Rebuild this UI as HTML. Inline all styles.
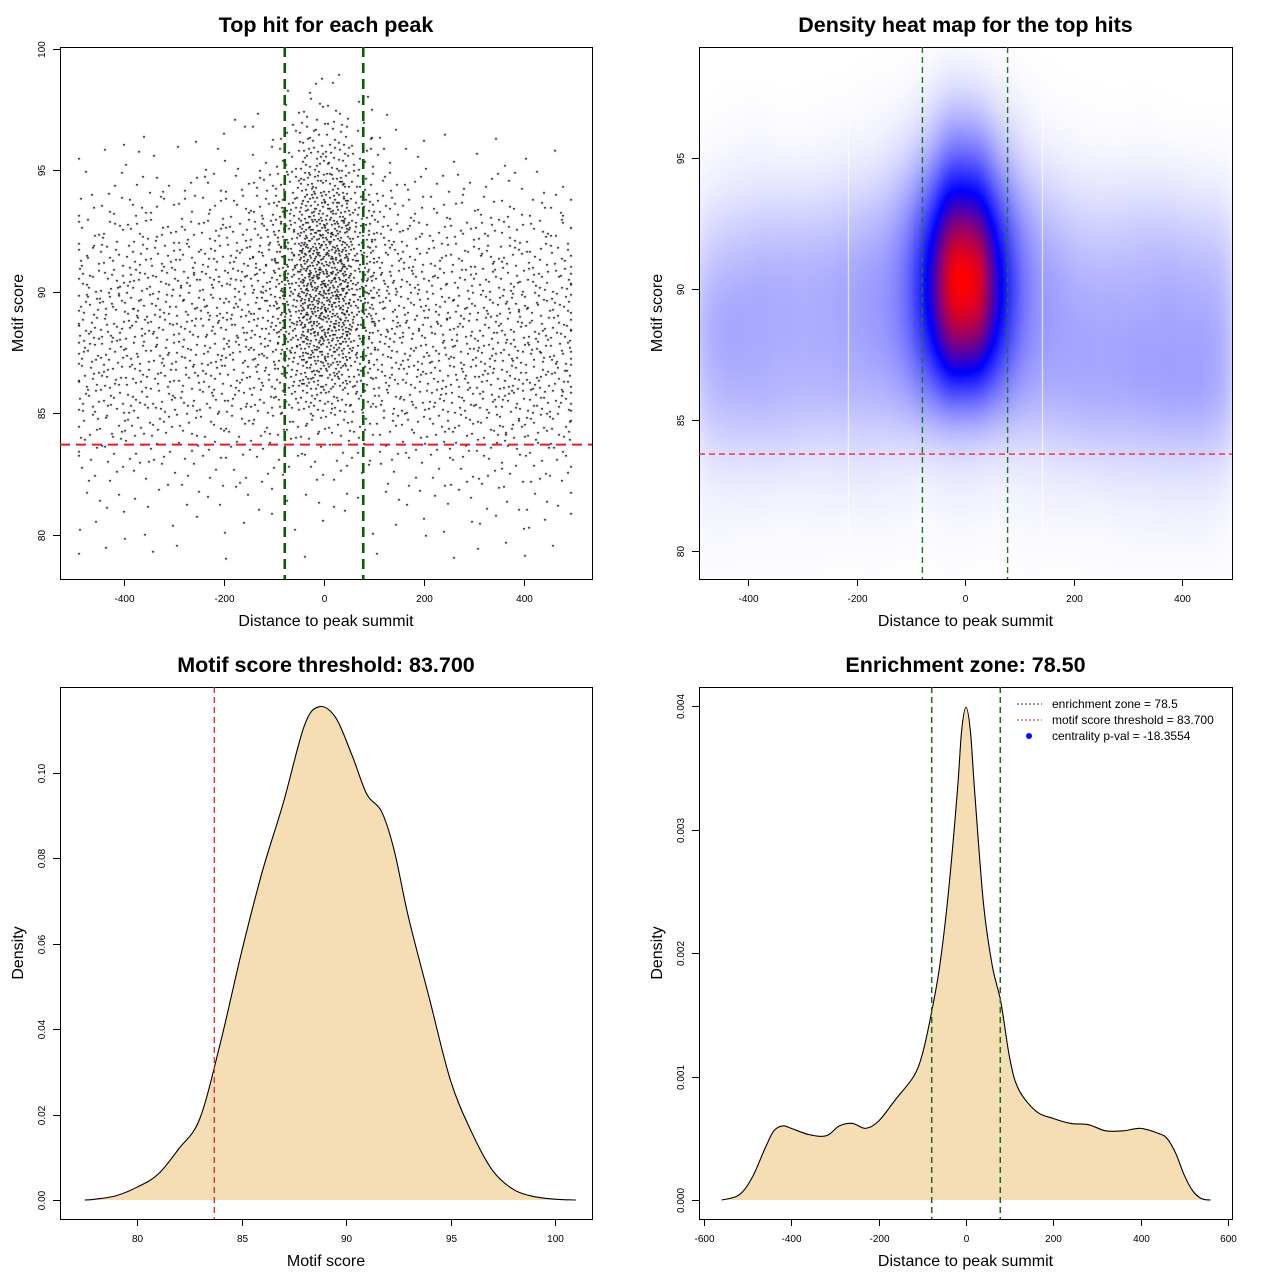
<!DOCTYPE html>
<html><head><meta charset="utf-8"><style>
html,body{margin:0;padding:0;background:#fff;}
#wrap{position:relative;width:1280px;height:1280px;font-family:"Liberation Sans",sans-serif;}
canvas,svg{position:absolute;left:0;top:0;}
</style></head><body>
<div id="wrap">
<canvas id="scat" width="1280" height="1280"></canvas>
<canvas id="heat" width="1280" height="1280"></canvas>
<svg id="svg" width="1280" height="1280" xmlns="http://www.w3.org/2000/svg"></svg>
</div>
<script>
// ---- data: scatter counts per bin (columns = 50-unit distance bins from -500, rows = 1-unit score bins from 99 down) ----
const scatterColumns = [
[0,0,0,1,2,3,6,8,10,12,13,12,11,10,7,5,3,2,2,1],
[0,0,1,1,3,4,7,9,11,13,13,13,12,10,8,5,3,2,1,1],
[0,0,1,2,3,5,8,10,12,13,13,12,12,11,8,5,3,2,1,1],
[0,0,0,1,3,5,8,10,12,12,12,12,11,10,8,5,3,1,1,1],
[0,0,1,1,3,5,8,10,12,12,12,12,11,10,7,4,3,2,1,1],
[0,0,1,2,4,6,9,11,13,13,13,12,12,10,7,5,3,2,1,0],
[0,1,1,2,4,7,10,12,14,14,14,13,12,10,7,5,3,2,1,1],
[0,1,2,4,7,10,13,15,16,16,16,15,13,11,7,4,3,2,1,0],
[1,2,5,8,13,18,23,27,29,29,27,24,19,14,8,4,2,1,1,0],
[3,6,12,18,26,36,46,54,58,56,50,42,30,18,9,5,3,2,1,1],
[2,5,11,17,25,34,44,52,56,55,49,40,29,17,9,4,3,2,1,0],
[1,2,5,8,12,17,22,26,28,28,26,23,18,13,8,4,2,1,1,0],
[0,1,2,3,6,9,12,14,15,15,15,14,13,11,7,4,3,2,1,1],
[0,0,1,2,4,6,9,11,13,13,14,13,13,11,8,5,3,2,1,0],
[0,0,1,1,3,5,7,9,11,12,13,13,13,12,9,5,3,2,1,1],
[0,0,0,1,3,5,7,9,11,12,13,13,13,12,9,6,4,2,1,1],
[0,0,1,1,3,5,8,10,11,12,13,14,14,12,9,6,4,2,2,1],
[0,0,0,1,3,5,8,10,12,13,13,14,14,13,10,6,4,3,1,1],
[0,0,0,1,2,4,7,9,11,12,13,14,14,13,10,6,4,3,2,1],
[0,0,0,1,2,4,7,9,11,12,13,13,13,12,9,6,4,2,1,1]
];
const binStartX = -500, binWidthX = 50, binTopY = 99, binHeightY = 1;
const enrichmentZone = 78.5;
const scoreThreshold = 83.7;
// score density (panel 3)
const scoreX = [77.5,78,79,80,81,82,83,84,85,86,87,88,88.7,89.5,90.3,91,91.7,92.3,93,94,95,96,97,98,99,100,101];
const scoreDensity = [0,0.0002,0.001,0.003,0.006,0.012,0.019,0.037,0.058,0.077,0.093,0.111,0.1155,0.113,0.104,0.095,0.091,0.082,0.066,0.047,0.028,0.016,0.007,0.0025,0.0008,0.0002,0];
// distance density (panel 4)
const distX = [-560,-520,-490,-460,-440,-420,-400,-360,-320,-290,-260,-230,-200,-160,-120,-100,-80,-60,-40,-20,-10,0,10,20,40,60,80,100,120,160,200,240,280,320,360,400,440,460,480,500,520,540,560];
const distDensity = [0,0.00004,0.00018,0.00042,0.00056,0.0006,0.00058,0.00053,0.00052,0.0006,0.00062,0.00058,0.00064,0.00082,0.001,0.00118,0.0015,0.0019,0.0025,0.0033,0.0038,0.00399,0.0038,0.0033,0.0024,0.0019,0.0016,0.00115,0.0009,0.00072,0.00066,0.00062,0.00061,0.00056,0.00056,0.00058,0.00054,0.0005,0.00038,0.0002,0.00007,0.00001,0];
// ticks
const p1XTicks = [-400,-200,0,200,400], p1YTicks = [80,85,90,95,100];
const p2XTicks = [-400,-200,0,200,400], p2YTicks = [80,85,90,95];
const p3XTicks = [80,85,90,95,100], p3YTicks = [0,0.02,0.04,0.06,0.08,0.10];
const p4XTicks = [-600,-400,-200,0,200,400,600], p4YTicks = [0,0.001,0.002,0.003,0.004];
const legendLabels = ["enrichment zone = 78.5","motif score threshold = 83.700","centrality p-val = -18.3554"];

// ---- axis functions ----
function lin(d0,d1,r0,r1){return v=>r0+(v-d0)*(r1-r0)/(d1-d0);}
const P1={x0:60,y0:47,x1:592,y1:579, sx:lin(0,400,324,524), sy:lin(100,80,48.5,534.5)};
const P2={x0:699,y0:47,x1:1232,y1:579, sx:lin(0,400,965,1182), sy:lin(95,80,158,551)};
const P3={x0:60,y0:687,x1:592,y1:1219, sx:lin(80,100,137,555), sy:lin(0,0.1,1200,773)};
const P4={x0:699,y0:687,x1:1232,y1:1219, sx:lin(0,600,966,1228), sy:lin(0,0.004,1200,706)};

const NS="http://www.w3.org/2000/svg";
const svg=document.getElementById('svg');
function el(tag,attrs,parent){const e=document.createElementNS(NS,tag);for(const k in attrs)e.setAttribute(k,attrs[k]);(parent||svg).appendChild(e);return e;}
function text(str,x,y,size,attrs,parent){const t=el('text',Object.assign({x:x,y:y,'font-size':size,'text-anchor':'middle','font-family':'Liberation Sans, sans-serif',fill:'#000'},attrs||{}),parent);t.textContent=str;return t;}

function halton(i,b){let f=1,r=0;while(i>0){f/=b;r+=f*(i%b);i=Math.floor(i/b);}return r;}

// ---- panel 1 scatter ----
const sc=document.getElementById('scat').getContext('2d');
sc.fillStyle='#000';
for(let c=0;c<scatterColumns.length;c++){
  for(let r=0;r<scatterColumns[c].length;r++){
    const n=scatterColumns[c][r];
    const off=(c*20+r)*13+1;
    for(let k=0;k<n;k++){
      let xv=binStartX+c*binWidthX+halton(k+off,2)*binWidthX;
      xv=Math.max(-492,Math.min(492,xv));
      const yv=binTopY-r*binHeightY-halton(k+off,3)*binHeightY;
      sc.fillRect(Math.round(P1.sx(xv)),Math.round(P1.sy(yv)),2,1.5);
    }
  }
}

// ---- panel 2 heatmap (kernel smoothing of the same counts) ----
(function(){
  const hc=document.getElementById('heat').getContext('2d');
  const W=P2.x1-P2.x0, H=P2.y1-P2.y0, step=2;
  const gw=Math.ceil(W/step), gh=Math.ceil(H/step);
  const inv=lin(P2.x0,P2.x1,-490,492), invy=lin(P2.y0,P2.y1,99.24,78.93);
  const bx=27, by=0.95;
  const cells=[];
  for(let c=0;c<scatterColumns.length;c++)for(let r=0;r<scatterColumns[c].length;r++){
    const n=scatterColumns[c][r]; if(n) cells.push([binStartX+(c+0.5)*binWidthX, binTopY-(r+0.5)*binHeightY, n]);
  }
  const dens=new Float32Array(gw*gh); let mx=0;
  for(let j=0;j<gh;j++){const yv=invy(P2.y0+j*step+1);
    for(let i=0;i<gw;i++){const xv=inv(P2.x0+i*step+1);let s=0;
      for(const cc of cells){const dx=(xv-cc[0])/bx, dy=(yv-cc[1])/by; const q=dx*dx+dy*dy; if(q<16) s+=cc[2]*Math.exp(-0.5*q);}
      dens[j*gw+i]=s; if(s>mx)mx=s;}}
  const off=document.createElement('canvas');off.width=gw;off.height=gh;
  const oc=off.getContext('2d');const img=oc.createImageData(gw,gh);
  for(let p=0;p<gw*gh;p++){
    let t=dens[p]/mx; let R,G,B;
    const m=0.6;
    if(t<m){const u=Math.pow(t/m,1.15);R=255*(1-u);G=255*(1-u);B=255;}
    else{const u=(t-m)/(1-m);R=255*u;G=0;B=255*(1-u);}
    img.data[p*4]=R;img.data[p*4+1]=G;img.data[p*4+2]=B;img.data[p*4+3]=255;
  }
  oc.putImageData(img,0,0);
  hc.save();
  hc.beginPath();hc.rect(P2.x0,P2.y0,W,H);hc.clip();
  hc.imageSmoothingEnabled=true;
  hc.drawImage(off,P2.x0,P2.y0,gw*step,gh*step);
  hc.fillStyle='rgba(255,255,255,0.85)';
  hc.fillRect(848,P2.y0,1,500);hc.fillRect(1042,P2.y0,1,500);
  hc.restore();
})();

// ---- generic axes ----
function frame(P,name){el('rect',{x:P.x0+0.5,y:P.y0+0.5,width:P.x1-P.x0,height:P.y1-P.y0,fill:'none',stroke:'#000','stroke-width':1,});}
function xAxis(P,ticks,fmt,name){
  const g=el('g',{});
  const a=P.sx(ticks[0]),b=P.sx(ticks[ticks.length-1]);
  el('line',{x1:a,y1:P.y1+0.5,x2:b,y2:P.y1+0.5,stroke:'#000'},g);
  ticks.forEach(t=>{const x=Math.round(P.sx(t))+0.5;el('line',{x1:x,y1:P.y1,x2:x,y2:P.y1+7,stroke:'#000'},g);
    text(fmt(t),x,P.y1+23,10,{},g);});
}
function yAxis(P,ticks,fmt,name){
  const g=el('g',{});
  const a=P.sy(ticks[0]),b=P.sy(ticks[ticks.length-1]);
  el('line',{x1:P.x0+0.5,y1:a,x2:P.x0+0.5,y2:b,stroke:'#000'},g);
  ticks.forEach(t=>{const y=Math.round(P.sy(t))+0.5;el('line',{x1:P.x0-7,y1:y,x2:P.x0,y2:y,stroke:'#000'},g);
    text(fmt(t),0,0,10,{transform:`translate(${P.x0-15},${y}) rotate(-90)`},g);});
}
function titles(P,title,xl,yl,name){
  const t=text(title,(P.x0+P.x1)/2,32,21.5,{'font-weight':'bold'});t.setAttribute('y',P.y0-15);
  
  const x=text(xl,(P.x0+P.x1)/2,P.y1+47,16);
  const y=text(yl,0,0,16,{transform:`translate(${P.x0-37},${(P.y0+P.y1)/2}) rotate(-90)`});
}
function vline(P,xv,color,w,dash,name){const x=P.sx(xv);const l=el('line',{x1:x,y1:P.y0,x2:x,y2:P.y1,stroke:color,'stroke-width':w,'stroke-dasharray':dash});}
function hline(P,yv,color,w,dash,name){const y=P.sy(yv);const l=el('line',{x1:P.x0,y1:y,x2:P.x1,y2:y,stroke:color,'stroke-width':w,'stroke-dasharray':dash});}
function smoothPath(pts){
  let d=`M${pts[0][0]},${pts[0][1]}`;
  for(let i=0;i<pts.length-1;i++){
    const p0=pts[Math.max(0,i-1)],p1=pts[i],p2=pts[i+1],p3=pts[Math.min(pts.length-1,i+2)];
    const c1=[p1[0]+(p2[0]-p0[0])/6,p1[1]+(p2[1]-p0[1])/6],c2=[p2[0]-(p3[0]-p1[0])/6,p2[1]-(p3[1]-p1[1])/6];
    d+=` C${c1[0].toFixed(2)},${c1[1].toFixed(2)} ${c2[0].toFixed(2)},${c2[1].toFixed(2)} ${p2[0].toFixed(2)},${p2[1].toFixed(2)}`;
  }
  return d;
}
function densityCurve(P,xs,ys,name){
  const pts=xs.map((x,i)=>[P.sx(x),P.sy(ys[i])]);
  const d=smoothPath(pts);
  const f=el('path',{d:d+' Z',fill:'#f5deb3',stroke:'none'});
  const l=el('path',{d:d,fill:'none',stroke:'#000','stroke-width':1.1});
}
const intF=t=>String(t);

// panel 1
frame(P1,'scatter-panel');
xAxis(P1,p1XTicks,intF,'scatter');yAxis(P1,p1YTicks,intF,'scatter');
titles(P1,'Top hit for each peak','Distance to peak summit','Motif score','scatter');
vline(P1,-enrichmentZone,'#006400',2.6,'10,6','scatter-zone-left');
vline(P1,enrichmentZone,'#006400',2.6,'10,6','scatter-zone-right');
hline(P1,scoreThreshold,'#dd2222',2,'10,6','scatter-threshold-line');

// panel 2
frame(P2,'heatmap-panel');
xAxis(P2,p2XTicks,intF,'heatmap');yAxis(P2,p2YTicks,intF,'heatmap');
titles(P2,'Density heat map for the top hits','Distance to peak summit','Motif score','heatmap');
vline(P2,-enrichmentZone,'#1a7a1a',1.4,'6,4','heatmap-zone-left');
vline(P2,enrichmentZone,'#1a7a1a',1.4,'6,4','heatmap-zone-right');
hline(P2,scoreThreshold,'#dd3333',1.4,'6,4','heatmap-threshold-line');

// panel 3
densityCurve(P3,scoreX,scoreDensity,'score-density');
frame(P3,'score-panel');
xAxis(P3,p3XTicks,intF,'score');yAxis(P3,p3YTicks,t=>t.toFixed(2),'score');
titles(P3,'Motif score threshold: 83.700','Motif score','Density','score');
vline(P3,scoreThreshold,'#dd3333',1.4,'6,4','score-threshold-line');

// panel 4
densityCurve(P4,distX,distDensity,'distance-density');
frame(P4,'distance-panel');
xAxis(P4,p4XTicks,intF,'distance');yAxis(P4,p4YTicks,t=>t.toFixed(3),'distance');
titles(P4,'Enrichment zone: 78.50','Distance to peak summit','Density','distance');
vline(P4,-enrichmentZone,'#1a6a1a',1.5,'6,4','distance-zone-left');
vline(P4,enrichmentZone,'#1a6a1a',1.5,'6,4','distance-zone-right');

// legend
const lg=el('g',{});
const lgColors=['#555','#ee4444',null];
legendLabels.forEach((lab,i)=>{
  const y=704+i*16;
  const e=el('g',{},lg);
  
  
  if(lgColors[i]) el('line',{x1:1017,y1:y,x2:1042,y2:y,stroke:lgColors[i],'stroke-width':1.2,'stroke-dasharray':'2,2'},e);
  else el('circle',{cx:1029,cy:y,r:3,fill:'#0000ff'},e);
  text(lab,1052,y+4,12,{'text-anchor':'start'},e);
});
</script>
</body></html>
